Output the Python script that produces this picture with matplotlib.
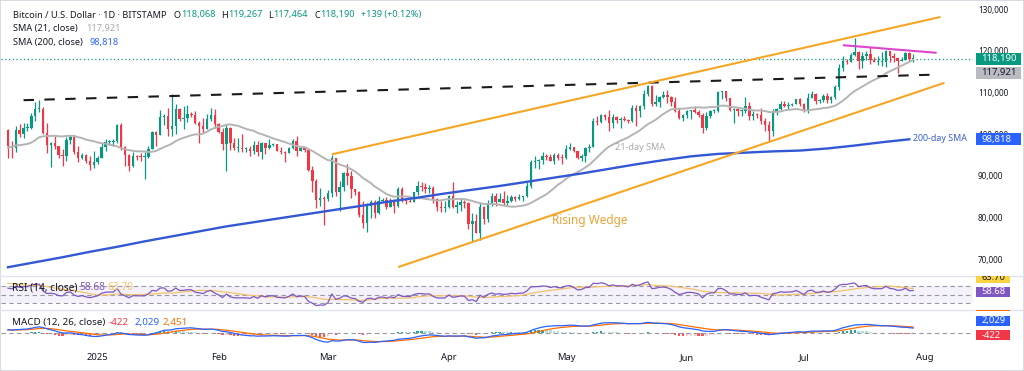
import numpy as np
import pandas as pd
import matplotlib
matplotlib.use("Agg")
import matplotlib.pyplot as plt
import matplotlib.dates as mdates
from matplotlib.patches import Rectangle
from matplotlib.lines import Line2D
from matplotlib.text import Annotation
from matplotlib.transforms import Bbox, TransformedBbox

plt.rcParams['font.family'] = ['Noto Sans', 'DejaVu Sans']

# ---------------- data (BTC/USD daily, Bitstamp) ----------------
start_date = '2024-12-09'
first_open = 101100
warmup_closes = [92300, 94300, 98400, 98900, 97700, 98000, 93000, 91900, 95900, 95600,
                 97500, 96400, 97200, 95900, 96000, 98600, 97000, 99900, 99900, 101100]

close_dec = [97300, 96600, 101100, 100000, 101400, 101400, 104300, 106000, 106100, 100200, 97400, 97800,
             97100, 95100, 94800, 98600, 99400, 95800, 94200, 95100, 93500, 92600, 93400]
high_dec = [101300, 98300, 101900, 102500, 102600, 102600, 105100, 107800, 108300, 106500, 102800, 98100,
            99500, 97300, 96400, 99400, 99900, 99900, 97300, 95500, 95200, 94900, 96100]
low_dec = [94200, 94300, 95700, 99300, 99200, 100700, 101300, 103300, 105400, 100000, 95600, 92200,
           96400, 94200, 92400, 93500, 97600, 95200, 93400, 94000, 93100, 91400, 92000]

close_jan = [94400, 96900, 98100, 98200, 98300, 102200, 96900, 95000, 92500, 94700, 94600, 94500, 94500,
             96500, 100500, 99900, 104100, 104400, 101300, 102000, 106100, 103700, 104000, 104800, 104700,
             102600, 102000, 101300, 103700, 104700, 102400]
high_jan = [94900, 97800, 98900, 98700, 98800, 102500, 102700, 97200, 95300, 95800, 95000, 95400, 95800,
            97300, 100700, 100800, 105900, 104900, 106300, 109600, 107200, 106300, 106800, 107100, 105300,
            105500, 103200, 103800, 104800, 106400, 106000]
low_jan = [92800, 94200, 96000, 97500, 97300, 97900, 96200, 92500, 91200, 92200, 93800, 93700, 89200,
           94300, 96500, 97300, 99900, 102300, 99600, 99500, 100100, 103300, 101300, 102900, 104100,
           102500, 97800, 100300, 101300, 103300, 101600]

close_feb = [100600, 97700, 101400, 97900, 96600, 96600, 96500, 96500, 96100, 97400, 95700, 97800, 96600,
             97500, 97600, 96100, 95800, 95600, 96600, 98300, 96100, 96600, 96300, 91400, 88700, 84300,
             84700, 84400]
high_feb = [102800, 101500, 102400, 101700, 99000, 99200, 100100, 96900, 97300, 98300, 98500, 98100, 97900,
            98800, 97900, 97700, 97000, 96000, 96900, 98800, 99500, 96900, 96700, 96500, 92500, 89300,
            87100, 85100]
low_feb = [100300, 96200, 91200, 96200, 96200, 95700, 95700, 95700, 94800, 95300, 94900, 94100, 95300,
           96500, 97300, 96000, 95300, 93400, 95400, 96400, 94900, 96100, 95700, 91200, 86100, 82300,
           82800, 78200]

close_mar = [86000, 94300, 86100, 87300, 90600, 89900, 86800, 86200, 80700, 78600, 82900, 83700, 81100,
             84000, 84300, 82600, 84100, 82700, 86800, 84200, 84000, 83800, 86100, 87500, 87400, 86900,
             87200, 84400, 82600, 82400, 82500]
high_mar = [86600, 95000, 94400, 88900, 91000, 92800, 91200, 86900, 86500, 83900, 83600, 84300, 84300,
            85200, 84700, 85000, 84700, 84400, 87400, 87400, 84800, 84500, 86200, 88800, 88500, 88300,
            87800, 87500, 84600, 83900, 83900]
low_mar = [83900, 85000, 85100, 81500, 86400, 87800, 84700, 85400, 80100, 77500, 76600, 80000, 79900,
           80800, 83700, 82100, 82500, 81200, 82500, 83700, 83200, 83700, 83800, 85500, 86300, 85900,
           85800, 83600, 81600, 81300, 81300]

close_apr = [85200, 82500, 83100, 83800, 83500, 78400, 79100, 76300, 82600, 79600, 83400, 85300, 83700,
             84500, 83600, 84000, 84900, 84400, 85000, 85100, 87500, 93400, 93700, 93900, 94700, 94600,
             93700, 95000, 94300, 94200]
high_apr = [85500, 88500, 83900, 84700, 84200, 83800, 81200, 80800, 83500, 82700, 84300, 85900, 86000,
            85800, 86500, 85500, 85500, 85100, 85600, 85300, 88500, 93800, 94700, 94000, 95800, 95300,
            95300, 95600, 95400, 95200]
low_apr = [82400, 82300, 81200, 81700, 82400, 77200, 74500, 76200, 74600, 78500, 78900, 82800, 82900,
           83700, 83100, 83100, 83800, 84100, 84300, 83900, 85000, 87100, 91900, 91700, 92900, 93900,
           93600, 92900, 93800, 92900]

close_may = [96500, 96900, 95900, 94300, 94800, 96800, 97000, 103200, 102900, 104600, 104100, 102800,
             104100, 103500, 103700, 103500, 103100, 106400, 105600, 106800, 109600, 111700, 107300,
             107800, 109000, 109400, 108900, 107800, 105600, 103900, 104600]
high_may = [97400, 97900, 96900, 96000, 95200, 96900, 97700, 103900, 104300, 104900, 104900, 105800,
            104900, 104400, 104100, 104500, 103700, 107000, 107000, 107100, 110700, 111900, 111800,
            109500, 109300, 110400, 110700, 109300, 108900, 106300, 104900]
low_may = [94100, 96300, 95700, 94000, 93500, 93400, 95800, 96900, 102300, 102800, 103400, 100800,
           101500, 102600, 101400, 103100, 102600, 103000, 102000, 104200, 106100, 109300, 106800,
           106900, 106600, 108700, 107600, 106700, 105400, 103600, 103100]

close_jun = [105700, 105800, 105400, 104700, 101500, 104300, 105600, 105700, 110200, 110300, 108700,
             105900, 106000, 105500, 105500, 106800, 104500, 104800, 104700, 103300, 102200, 100900,
             105400, 106100, 107300, 106900, 107100, 107300, 108400, 107200]
high_jun = [105900, 105900, 106800, 105900, 105000, 105300, 105800, 106000, 110500, 110400, 110400,
            108800, 106200, 106200, 106000, 108900, 107700, 105500, 105000, 106400, 103900, 103100,
            106100, 106300, 108100, 108000, 107700, 107600, 108500, 108800]
low_jun = [103800, 103700, 105000, 104200, 100400, 101100, 103900, 105100, 105300, 108400, 108100,
           105700, 102700, 104400, 104500, 105000, 103400, 103500, 103900, 102400, 100900, 98200,
           99600, 104600, 105900, 106600, 106100, 106800, 107200, 106700]

close_jul = [105700, 108800, 109600, 108000, 108200, 109200, 108300, 108900, 111300, 115900, 117500,
             117400, 119100, 119800, 117700, 118700, 119300, 117900, 117300, 117400, 117400, 119900,
             118700, 118400, 117600, 117900, 119400, 118068, 118190]
high_jul = [107500, 109800, 110500, 109800, 108400, 109700, 109800, 109200, 111900, 116900, 118800,
            118000, 119500, 123200, 119900, 119800, 120000, 120900, 118600, 118900, 119700, 120200,
            120000, 119500, 118400, 118500, 119800, 119800, 119267]
low_jul = [105300, 105100, 108600, 107300, 107500, 107800, 107500, 107400, 108400, 110600, 115300,
           116900, 117300, 118900, 115700, 115800, 117800, 116900, 117300, 116600, 116500, 116200,
           117400, 117400, 114700, 117500, 117800, 117500, 117464]

# 200-day SMA (from 2024-12-09, every 7 days)
sma200_start = '2024-12-09'
sma200_weekly = [68100, 69300, 70500, 71800, 73000, 74300, 75500, 76700, 77900, 78900, 79900, 80900,
                 81900, 82900, 83900, 84800, 85800, 86700, 87600, 88600, 89600, 90600, 91700, 92800,
                 93800, 94700, 95300, 95600, 95900, 96100, 96600, 97300, 98100, 98800]

# drawn trend lines (date, price)
resistance_pts = (['2024-12-13', '2025-08-04'], [108190, 114330])
wedge_upper_pts = (['2025-03-02', '2025-08-05'], [95190, 128160])
wedge_lower_pts = (['2025-03-19', '2025-08-06'], [68130, 112360])
triangle_top_pts = (['2025-07-11', '2025-08-04'], [121380, 119560])

month_ticks = ['2025-01-01', '2025-02-01', '2025-03-01', '2025-04-01', '2025-05-01',
               '2025-06-01', '2025-07-01', '2025-08-01']
month_labels = ['2025', 'Feb', 'Mar', 'Apr', 'May', 'Jun', 'Jul', 'Aug']
price_ticks = [70000, 80000, 90000, 100000, 110000, 120000, 130000]

# ---------------- assemble ----------------
closes = np.array(close_dec + close_jan + close_feb + close_mar + close_apr + close_may + close_jun + close_jul, float)
highs = np.array(high_dec + high_jan + high_feb + high_mar + high_apr + high_may + high_jun + high_jul, float)
lows = np.array(low_dec + low_jan + low_feb + low_mar + low_apr + low_may + low_jun + low_jul, float)
n = len(closes)
opens = np.r_[first_open, closes[:-1]]
dates = pd.date_range(start_date, periods=n, freq='D')
x = mdates.date2num(dates)

full = pd.Series(np.r_[warmup_closes, closes])
sma21 = full.rolling(21).mean().values[-n:]
delta = full.diff()
gain = delta.clip(lower=0)
loss = -delta.clip(upper=0)
ag = gain.ewm(alpha=1 / 14, adjust=False).mean()
al = loss.ewm(alpha=1 / 14, adjust=False).mean()
rsi_full = 100 - 100 / (1 + ag / al)
rsi_ma = rsi_full.rolling(14).mean().values[-n:]
rsi = rsi_full.values[-n:]
ema12 = full.ewm(span=12, adjust=False).mean()
ema26 = full.ewm(span=26, adjust=False).mean()
macd_full = ema12 - ema26
signal_full = macd_full.ewm(span=9, adjust=False).mean()
hist_full = macd_full - signal_full
macd = macd_full.values[-n:]
signal = signal_full.values[-n:]
hist = hist_full.values[-n:]
hist_prev = hist_full.shift(1).values[-n:]

sma200_x = mdates.date2num(pd.date_range(sma200_start, periods=len(sma200_weekly), freq='7D'))

# ---------------- figure ----------------
W, H = 1024, 371
fig = plt.figure(figsize=(W / 100, H / 100), dpi=100)
fig.patch.set_facecolor('white')
renderer = fig.canvas.get_renderer()

UP, DN = '#089981', '#f23645'
DARK = '#131722'
BLUE = '#2962ff'


def size_for(s, target_px, weight='normal', base=10.0):
    t = fig.text(0, 0, s, fontsize=base, fontweight=weight)
    w = t.get_window_extent(renderer).width
    t.remove()
    return base * target_px / w


JAN1 = mdates.date2num(pd.Timestamp('2025-01-01'))
PX_PER_DAY, X0_PX = 3.902, 97.7


def px2date(p):
    return JAN1 + (p - X0_PX) / PX_PER_DAY


def add_ax(top_px, bot_px):
    a = fig.add_axes([1 / W, 1 - bot_px / H, 972 / W, (bot_px - top_px) / H])
    a.set_facecolor('none')
    for s in a.spines.values():
        s.set_visible(False)
    a.set_xlim(px2date(1), px2date(973))
    a.set_xticks([])
    a.set_yticks([])
    return a


ax = add_ax(0, 275)
ax_rsi = add_ax(276, 309)
ax_macd = add_ax(310, 345)

# ---- main pane ----
ax.set_ylim(66232, 132232)
col = np.where(closes >= opens, UP, DN)
ax.vlines(x, lows, highs, colors=col, lw=0.9, zorder=2)
body_bot = np.minimum(opens, closes)
body_h = np.maximum(np.abs(closes - opens), 250)
ax.bar(x, body_h, bottom=body_bot, width=0.62, color=col, linewidth=0, zorder=3)

ax.plot(x, sma21, color='#b4b4b4', lw=1.4, zorder=4)
ax.plot(sma200_x, sma200_weekly, color='#3358d4', lw=1.7, zorder=4)
ax.axhline(closes[-1], color=UP, ls=(0, (1, 2)), lw=0.9, zorder=1)


def trend(pts, **kw):
    ax.plot(mdates.date2num(pd.to_datetime(pts[0])), pts[1], solid_capstyle='butt', zorder=5, **kw)


trend(resistance_pts, color='#1a1a1a', lw=1.5, ls=(0, (5, 5)))
trend(wedge_upper_pts, color='#f5a623', lw=1.5)
trend(wedge_lower_pts, color='#f5a623', lw=1.5)
trend(triangle_top_pts, color='#dd44cc', lw=1.5)

ax.text(mdates.date2num(pd.Timestamp('2025-05-20')), 96800, '21-day SMA', color='#a8a8a8',
        fontsize=size_for('21-day SMA', 50), ha='center', va='center', zorder=6)
ax.text(mdates.date2num(pd.Timestamp('2025-07-29')), 98990, '200-day SMA', color='#3a5fd1',
        fontsize=size_for('200-day SMA', 54), ha='left', va='center', zorder=6, clip_on=False)
ax.text(mdates.date2num(pd.Timestamp('2025-05-07')), 79260, 'Rising Wedge', color='#eea032',
        fontsize=size_for('Rising Wedge', 76), ha='center', va='center', zorder=6)

ax.yaxis.tick_right()
ax.set_yticks(price_ticks)
ax.set_yticklabels([f'{v:,}' for v in price_ticks], fontsize=size_for('130,000', 30), color=DARK)
ax.tick_params(axis='y', length=0, pad=3.5)

# ---- RSI pane ----
ax_rsi.set_ylim(17.05, 92.05)
ax_rsi.axhspan(30, 70, color='#7e57c2', alpha=0.08, lw=0)
for lvl in (70, 50, 30):
    ax_rsi.axhline(lvl, color='#9598a1', lw=0.8, ls=(0, (4, 3)))
ax_rsi.plot(x, rsi_ma, color='#f2c36b', lw=0.9)
ax_rsi.plot(x, rsi, color='#7e57c2', lw=0.9)

# ---- MACD pane ----
ax_macd.set_ylim(-4500, 9000)
hcol = np.where(hist >= 0, np.where(hist > hist_prev, '#26a69a', '#b2dfdb'),
                np.where(hist < hist_prev, '#ff5252', '#ffcdd2'))
ax_macd.bar(x, hist, width=0.6, color=hcol, linewidth=0)
ax_macd.axhline(0, color='#9598a1', lw=0.8, ls=(0, (4, 3)))
ax_macd.plot(x, signal, color='#ff6d00', lw=0.9)
ax_macd.plot(x, macd, color=BLUE, lw=0.9)

ax_macd.set_xticks(mdates.date2num(pd.to_datetime(month_ticks)))
ax_macd.set_xticklabels(month_labels, fontsize=size_for('Feb', 16), color=DARK)
ax_macd.tick_params(axis='x', length=0, pad=6)
ax_macd.get_xticklabels()[0].set_fontweight('bold')

# ---- separators and frame ----
for yy in (275.5, 309.5):
    fig.add_artist(Line2D([0, 1], [1 - yy / H, 1 - yy / H], color='#e0e3eb', lw=1))
fig.add_artist(Rectangle((0, 0), 1, 1, transform=fig.transFigure, fill=False, ec='#d1d4dc', lw=1.2))


# ---- header legends (font size fitted to the reference widths) ----
def chain(x_px, y_px, parts, size, right_px=None):
    t = fig.text(x_px / W, 1 - y_px / H, parts[0][0], color=parts[0][1], fontsize=size,
                 ha='left', va='center', zorder=8)
    arts = [t]
    for s, c, gap in parts[1:]:
        a = Annotation(s, xy=(1, 0), xycoords=t, xytext=(gap, 0), textcoords='offset points',
                       ha='left', va='bottom', color=c, fontsize=size, zorder=8)
        fig.add_artist(a)
        arts.append(a)
        t = a
    if right_px is not None:
        for _ in range(4):
            right = arts[-1].get_window_extent(renderer).x1
            f = (right_px - x_px) / (right - x_px)
            size *= f
            for a in arts:
                a.set_fontsize(size)
    return size


G = UP
hsize = chain(13, 15, [('Bitcoin / U.S. Dollar · 1D · BITSTAMP', DARK),
                       ('O', DARK, 5), ('118,068', G, 0.2), ('H', DARK, 4.3), ('119,267', G, 0.2),
                       ('L', DARK, 4.3), ('117,464', G, 0.2), ('C', DARK, 4.3), ('118,190', G, 0.2),
                       ('+139 (+0.12%)', G, 4.3)], 7.0, right_px=421)
chain(13, 29, [('SMA (21, close)', DARK), ('117,921', '#a8a8a8', 6)], hsize)
chain(13, 43, [('SMA (200, close)', DARK), ('98,818', BLUE, 4.5)], hsize)
chain(12, 288, [('RSI (14, close)', DARK), ('58.68', '#7e57c2', 1.5), ('63.70', '#f2c36b', 1.2)],
      6.7, right_px=133)
chain(12, 322.7, [('MACD (12, 26, close)', DARK), ('-422', DN, 2.2), ('2,029', BLUE, 4.3),
                  ('2,451', '#ff6d00', 2.2)], 6.5, right_px=188)


# ---- value boxes on the price scale ----
def box(x0, yc, w, h, label, fc, tc, size, clip=None):
    r = Rectangle((x0 / W, 1 - (yc + h / 2) / H), w / W, h / H, transform=fig.transFigure,
                  fc=fc, ec='none', zorder=9)
    t = fig.text((x0 + 5.5) / W, 1 - yc / H, label, color=tc, fontsize=size, ha='left',
                 va='center', zorder=10)
    fig.add_artist(r)
    if clip is not None:
        cb = TransformedBbox(Bbox.from_extents(0, 1 - clip[1] / H, 1, 1 - clip[0] / H), fig.transFigure)
        for art in (r, t):
            art.set_clip_on(True)
            art.set_clip_box(cb)


def ypx(a, v):
    return H - a.transData.transform((0, v))[1]


big = size_for('118,190', 35)
small = size_for('58.68', 24)
y_last = ypx(ax, closes[-1])
box(975.7, y_last, 45, 12, '118,190', UP, 'white', big)
box(975.7, y_last + 14, 45, 12, '117,921', '#b8bbc2', DARK, big)
box(975.7, ypx(ax, 98818), 45, 12, '98,818', BLUE, 'white', big)
box(976, 278, 34, 10, '63.70', '#f9d342', DARK, small, clip=(276, 309))
box(976, 292, 34, 10, '58.68', '#7e57c2', 'white', small, clip=(276, 309))
box(976, 306, 34, 10, '2,451', '#ff6d00', 'white', small, clip=(310, 345))
box(976, 321, 34, 10, '2,029', BLUE, 'white', small, clip=(310, 345))
box(976, 335.3, 34, 10, '-422', DN, 'white', small, clip=(310, 345))

fig.savefig('out.png', dpi=100, facecolor='white')
